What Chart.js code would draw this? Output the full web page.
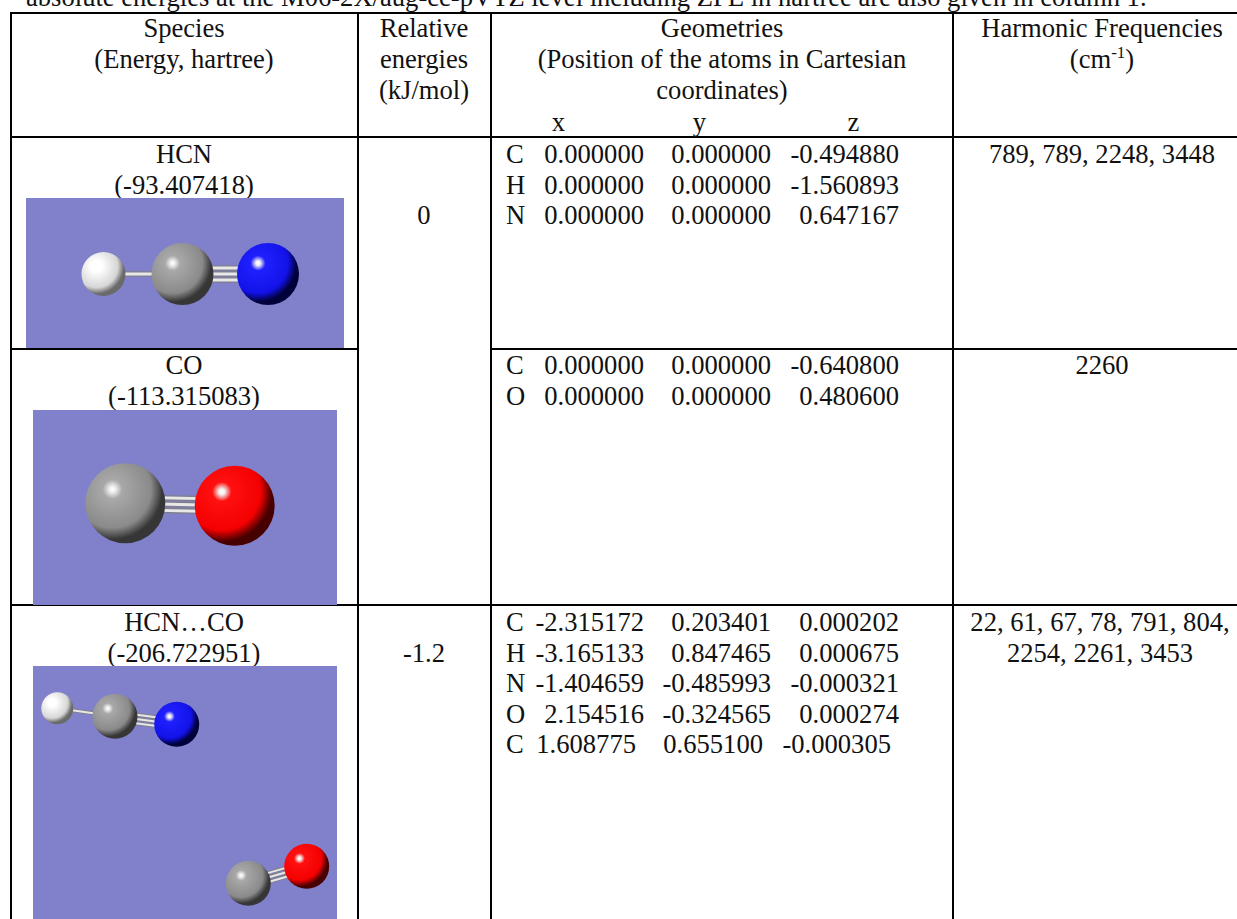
<!DOCTYPE html>
<html>
<head>
<meta charset="utf-8">
<script src="https://cdn.jsdelivr.net/npm/chart.js@4"></script>
<style>
  html, body { margin: 0; padding: 0; background: #fff; overflow: hidden; }
  #page { position: relative; width: 1237px; height: 919px; overflow: hidden; font-family: "Liberation Serif", serif; font-size: 26.6px; color: #111; }
  .t { position: absolute; line-height: 30px; white-space: pre; }
  .c { transform: translateX(-50%); }
  .r { transform: translateX(-100%); }
  .hl, .vl { position: absolute; background: #000; }
  canvas { position: absolute; background: #8180cb; }
  sup { font-size: 17px; line-height: 0; vertical-align: 10px; }
</style>
</head>
<body>
<div id="page"></div>
<script>
// text of the table
var caption = 'absolute energies at the M06-2X/aug-cc-pVTZ level including ZPE in hartree are also given in column 1.';
var species = ['HCN', 'CO', 'HCN\u2026CO'];
var energies = ['(-93.407418)', '(-113.315083)', '(-206.722951)'];
var relEnergies = ['0', '-1.2'];
var axisNames = ['x', 'y', 'z'];

var geomHcn = [
  ['C', '0.000000', '0.000000', '-0.494880'],
  ['H', '0.000000', '0.000000', '-1.560893'],
  ['N', '0.000000', '0.000000', '0.647167']
];
var geomCo = [
  ['C', '0.000000', '0.000000', '-0.640800'],
  ['O', '0.000000', '0.000000', '0.480600']
];
var geomDimer = [
  ['C', '-2.315172', '0.203401', '0.000202'],
  ['H', '-3.165133', '0.847465', '0.000675'],
  ['N', '-1.404659', '-0.485993', '-0.000321'],
  ['O', '2.154516', '-0.324565', '0.000274'],
  ['C', '1.608775', '0.655100', '-0.000305']
];
var freqHcn = ['789, 789, 2248, 3448'];
var freqCo = ['2260'];
var freqDimer = ['22, 61, 67, 78, 791, 804,', '2254, 2261, 3453'];

// atoms, same order in each list
var hcnAtoms = ['H', 'C', 'N'];
var hcnX = [77.5, 156.5, 242];
var hcnY = [76, 76, 76];
var hcnR = [22, 31, 31];
var hcnBonds = [[0, 1, 1], [1, 2, 3]];

var coAtoms = ['C', 'O'];
var coX = [92.3, 201.7];
var coY = [93.3, 95.7];
var coR = [40, 40];
var coBonds = [[0, 1, 3]];

var dimerAtoms = ['H', 'C', 'N', 'C', 'O'];
var dimerX = [24.3, 82, 143.7, 215.3, 273.7];
var dimerY = [42.3, 50.3, 58.3, 217.3, 200.3];
var dimerR = [16, 22.5, 22.5, 22.5, 22.5];
var dimerBonds = [[0, 1, 1], [1, 2, 3], [3, 4, 3]];

var page = document.getElementById('page');

function text(str, x, base, cls) {
  var d = document.createElement('div');
  d.className = 't ' + (cls || '');
  d.style.left = x + 'px';
  d.style.top = (base - 24) + 'px';
  d.innerHTML = str;
  page.appendChild(d);
}
function hline(x1, x2, y) {
  var d = document.createElement('div');
  d.className = 'hl';
  d.style.cssText = 'left:' + x1 + 'px;top:' + y + 'px;width:' + (x2 - x1) + 'px;height:2px';
  page.appendChild(d);
}
function vline(x, y1, y2) {
  var d = document.createElement('div');
  d.className = 'vl';
  d.style.cssText = 'left:' + x + 'px;top:' + y1 + 'px;width:2px;height:' + (y2 - y1) + 'px';
  page.appendChild(d);
}

text(caption, 26, 6);

// grid
hline(10, 1237, 12);
hline(10, 1237, 136);
hline(10, 358, 348);
hline(490, 1237, 348);
hline(10, 1237, 604);
vline(10, 12, 919);
vline(357, 12, 919);
vline(490, 12, 919);
vline(952, 12, 919);

// header
text('Species', 184, 36.7, 'c');
text('(Energy, hartree)', 184, 67.7, 'c');
text('Relative', 424, 36.7, 'c');
text('energies', 424, 67.7, 'c');
text('(kJ/mol)', 424, 98.7, 'c');
text('Geometries', 722, 36.7, 'c');
text('(Position of the atoms in Cartesian', 722, 67.7, 'c');
text('coordinates)', 722, 98.7, 'c');
text('Harmonic Frequencies', 1102, 36.7, 'c');
text('(cm<sup>-1</sup>)', 1102, 67.7, 'c');
text(axisNames[0], 558.5, 131, 'c');
text(axisNames[1], 699.5, 131, 'c');
text(axisNames[2], 853.5, 131, 'c');

// first column
text(species[0], 184, 163.3, 'c');
text(energies[0], 184, 193.7, 'c');
text(species[1], 184, 374.3, 'c');
text(energies[1], 184, 404.5, 'c');
text(species[2], 184, 631, 'c');
text(energies[2], 184, 661.5, 'c');

text(relEnergies[0], 424, 224, 'c');
text(relEnergies[1], 424, 661.5, 'c');

function geomRows(rows, base, lastShift) {
  rows.forEach(function (row, i) {
    var y = base + i * 30.5;
    var s = (i === rows.length - 1) ? lastShift : 0;
    text(row[0], 506, y);
    text(row[1], 644 + s, y, 'r');
    text(row[2], 771 + s, y, 'r');
    text(row[3], 899 + s, y, 'r');
  });
}
geomRows(geomHcn, 163.3, 0);
geomRows(geomCo, 374.3, 0);
geomRows(geomDimer, 631, -8);

text(freqHcn[0], 1102, 163.3, 'c');
text(freqCo[0], 1102, 374.3, 'c');
text(freqDimer[0], 1100, 631, 'c');
text(freqDimer[1], 1100, 661.5, 'c');

// ball shading per element: light, mid, dark
var shade = {
  H: ['#ffffff', '#d6d6d6', '#6a6a6a'],
  C: ['#a8a8a8', '#8a8a8a', '#363636'],
  N: ['#2020ff', '#1212e8', '#00003a'],
  O: ['#ff1010', '#f40000', '#470000']
};

function ballFill(el) {
  return function (ctx) {
    if (!ctx.parsed) return shade[el][1];
    var cx = ctx.chart.scales.x.getPixelForValue(ctx.parsed.x);
    var cy = ctx.chart.scales.y.getPixelForValue(ctx.parsed.y);
    // getMaxOverflow asks for the options before the scales have a size
    if (!isFinite(cx) || !isFinite(cy)) return shade[el][1];
    var r = ctx.raw.r;
    var hx = cx - 0.32 * r, hy = cy - 0.35 * r;
    var g = ctx.chart.ctx.createRadialGradient(hx, hy, 0, hx, hy, 1.42 * r);
    g.addColorStop(0, '#ffffff');
    g.addColorStop(0.05, el === 'H' ? '#ffffff' : '#f0f0f0');
    g.addColorStop(0.17, shade[el][0]);
    g.addColorStop(0.68, shade[el][1]);
    g.addColorStop(0.88, shade[el][2]);
    g.addColorStop(1, shade[el][2]);
    return g;
  };
}

function bondLine(a, b, off, nx, ny, color, width, order) {
  return {
    type: 'scatter',
    showLine: true,
    order: order,
    data: [
      { x: a.x + nx * off, y: a.y + ny * off },
      { x: b.x + nx * off, y: b.y + ny * off }
    ],
    borderColor: color,
    borderWidth: width,
    pointRadius: 0
  };
}

function molecule(left, top, w, h, atoms, xs, ys, rs, bonds, scale) {
  var cv = document.createElement('canvas');
  cv.width = w;
  cv.height = h;
  cv.style.left = left + 'px';
  cv.style.top = top + 'px';
  page.appendChild(cv);

  var datasets = [];
  bonds.forEach(function (bd) {
    var a = { x: xs[bd[0]], y: ys[bd[0]] };
    var b = { x: xs[bd[1]], y: ys[bd[1]] };
    var len = Math.hypot(b.x - a.x, b.y - a.y);
    var nx = -(b.y - a.y) / len, ny = (b.x - a.x) / len;
    var gap = 6 * scale;
    var offs = bd[2] === 3 ? [-gap, 0, gap] : [0];
    // lower order lies on top: balls, then the light core, then the dark edge
    offs.forEach(function (o) {
      datasets.push(bondLine(a, b, o, nx, ny, '#7f7f8c', 5.4 * scale, 3));
      datasets.push(bondLine(a, b, o, nx, ny, '#e8e8e8', 2.8 * scale, 2));
    });
  });
  atoms.forEach(function (el, i) {
    datasets.push({
      type: 'bubble',
      order: 1,
      data: [{ x: xs[i], y: ys[i], r: rs[i] }],
      backgroundColor: ballFill(el),
      borderWidth: 0
    });
  });

  new Chart(cv.getContext('2d'), {
    data: { datasets: datasets },
    options: {
      responsive: false,
      animation: false,
      events: [],
      // no room kept for the bubbles, 1 unit has to stay 1 pixel
      layout: { padding: 0, autoPadding: false },
      plugins: { legend: { display: false }, tooltip: { enabled: false } },
      scales: {
        x: { type: 'linear', min: 0, max: w, display: false },
        y: { type: 'linear', min: 0, max: h, reverse: true, display: false }
      }
    }
  });
}

molecule(26, 198, 318, 150, hcnAtoms, hcnX, hcnY, hcnR, hcnBonds, 1);
molecule(33, 410, 304, 195, coAtoms, coX, coY, coR, coBonds, 1.05);
molecule(33, 666, 304, 253, dimerAtoms, dimerX, dimerY, dimerR, dimerBonds, 0.72);
</script>
</body>
</html>
